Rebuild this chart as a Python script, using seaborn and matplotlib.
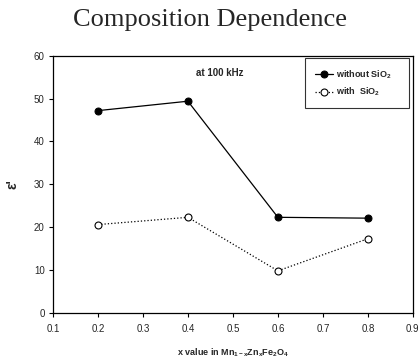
import matplotlib
matplotlib.use("Agg")
import matplotlib.pyplot as plt
import seaborn as sns
import pandas as pd

x_values = [0.2, 0.4, 0.6, 0.8]
without_sio2 = [47.2, 49.4, 22.3, 22.1]
with_sio2 = [20.6, 22.3, 9.8, 17.3]
x_ticks = [0.1, 0.2, 0.3, 0.4, 0.5, 0.6, 0.7, 0.8, 0.9]
y_ticks = [0, 10, 20, 30, 40, 50, 60]

sns.set_theme(style="white")
plt.rcParams['font.family'] = ['Liberation Sans', 'DejaVu Sans']
plt.rcParams['mathtext.fontset'] = 'custom'
plt.rcParams['mathtext.rm'] = 'Liberation Sans'
plt.rcParams['mathtext.bf'] = 'Liberation Sans:bold'

fig = plt.figure(figsize=(4.2, 3.6), dpi=100)
ax = fig.add_axes([0.126, 0.131, 0.857, 0.714])

df1 = pd.DataFrame({"x": x_values, "y": without_sio2})
df2 = pd.DataFrame({"x": x_values, "y": with_sio2})

sns.lineplot(data=df1, x="x", y="y", ax=ax, color="black", lw=0.9,
             marker="o", markersize=5, markerfacecolor="black",
             markeredgecolor="black", label="without SiO$_\\mathbf{2}$")
sns.lineplot(data=df2, x="x", y="y", ax=ax, color="black", lw=0.9,
             linestyle=":", marker="o", markersize=5, markerfacecolor="white",
             markeredgecolor="black", markeredgewidth=0.8,
             label="with  SiO$_\\mathbf{2}$")

ax.set_xlim(0.1, 0.9)
ax.set_ylim(0, 60)
ax.set_xticks(x_ticks)
ax.set_xticklabels([f"{t:.1f}" for t in x_ticks], fontsize=7)
ax.set_yticks(y_ticks)
ax.set_yticklabels([str(t) for t in y_ticks], fontsize=7)
ax.tick_params(direction="out", length=3, width=0.8, color="black")
ax.tick_params(axis="x", pad=5)
ax.tick_params(axis="y", pad=3)
ax.xaxis.set_ticks_position("bottom")
ax.yaxis.set_ticks_position("left")
for s in ax.spines.values():
    s.set_color("black")
    s.set_linewidth(0.9)

ax.set_xlabel("x value in Mn$_\\mathbf{1-x}$Zn$_\\mathbf{x}$Fe$_\\mathbf{2}$O$_\\mathbf{4}$",
              fontsize=6.5, fontweight="bold", labelpad=9)
ax.set_ylabel("ε'", fontsize=10, fontweight="bold", labelpad=10)

ax.text(0.47, 56, "at 100 kHz", fontsize=7, fontweight="bold",
        ha="center", va="center")

leg = ax.legend(bbox_to_anchor=(0.70, 0.0, 0.289, 0.991), loc="upper left",
                mode="expand", borderaxespad=0, fontsize=6.5, frameon=True,
                fancybox=False, edgecolor="black", borderpad=1.1,
                handlelength=2.0, handletextpad=0.4, labelspacing=0.6)
leg.get_frame().set_linewidth(0.8)
for t in leg.get_texts():
    t.set_fontweight("bold")

fig.text(0.5, 0.945, "Composition Dependence", fontsize=19,
         family=["Liberation Serif", "DejaVu Serif"], ha="center", va="center")

fig.savefig("out.png", dpi=100)
